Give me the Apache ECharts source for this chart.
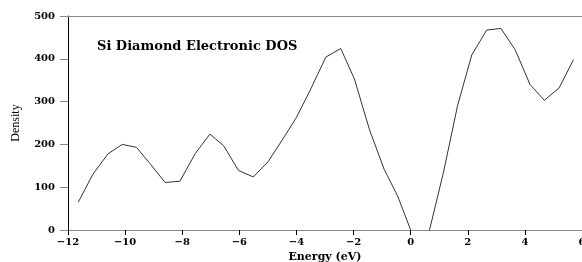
<!DOCTYPE html>
<html>
<head>
<meta charset="utf-8">
<script src="https://cdn.jsdelivr.net/npm/echarts@6/dist/echarts.min.js"></script>
<style>
  html, body { margin: 0; padding: 0; background: #fff; }
  #dos { width: 582px; height: 262px; }
</style>
</head>
<body>
<div id="dos"></div>
<script>
// valence band, energy (eV) vs density
const valenceBand = [
  [-11.64, 65], [-11.13, 130], [-10.6, 178], [-10.1, 200], [-9.6, 193],
  [-9.1, 153], [-8.6, 111], [-8.08, 114], [-7.55, 178], [-7.03, 224],
  [-6.55, 197], [-6.03, 139], [-5.51, 124], [-4.99, 160], [-4.5, 210],
  [-4.0, 263], [-3.48, 332], [-2.97, 404], [-2.45, 424], [-1.97, 353],
  [-1.44, 234], [-0.93, 142], [-0.46, 80], [0, 0],
]
// conduction band (after the gap)
const conductionBand = [
  [0.66, 0], [1.15, 135], [1.64, 290], [2.14, 409], [2.66, 467],
  [3.16, 471], [3.66, 421], [4.18, 340], [4.68, 303], [5.2, 332], [5.7, 398],
]
const xTicks = [-12, -10, -8, -6, -4, -2, 0, 2, 4, 6]
const yTicks = [0, 100, 200, 300, 400, 500]

function dosChart() {
  const tickFont = {
    fontFamily: 'DejaVu Serif',
    fontWeight: 'bold',
    fontSize: 10,
    color: '#000',
  }
  const lineStyle = { color: '#333', width: 1 }

  const option = {
    animation: false,
    backgroundColor: '#fff',
    title: {
      text: 'Si Diamond Electronic DOS',
      left: 92,
      top: 35,
      textStyle: {
        fontFamily: 'DejaVu Serif',
        fontWeight: 'bold',
        fontSize: 13,
        color: '#000',
      },
    },
    grid: {
      left: 68,
      right: 0,
      top: 16,
      bottom: 32,
      outerBoundsMode: 'none',
    },
    xAxis: [
      {
        type: 'value',
        min: xTicks[0],
        max: xTicks[xTicks.length - 1],
        interval: 2,
        name: 'Energy (eV)',
        nameLocation: 'middle',
        nameGap: 16,
        nameTextStyle: {
          fontFamily: 'DejaVu Serif',
          fontWeight: 'bold',
          fontSize: 11,
          color: '#000',
        },
        axisLine: { show: true, onZero: false, lineStyle: { color: '#888', width: 1 } },
        axisTick: { show: true, length: 5, lineStyle: { color: '#000' } },
        axisLabel: Object.assign({ margin: 7, formatter: (v) => String(v).replace('-', '\u2212') }, tickFont),
        splitLine: { show: false },
      },
      {
        type: 'value',
        position: 'top',
        min: xTicks[0],
        max: xTicks[xTicks.length - 1],
        axisLine: { show: true, onZero: false, lineStyle: { color: '#888', width: 1 } },
        axisTick: { show: false },
        axisLabel: { show: false },
        splitLine: { show: false },
      },
    ],
    yAxis: {
      type: 'value',
      min: yTicks[0],
      max: yTicks[yTicks.length - 1],
      interval: 100,
      name: 'Density',
      nameLocation: 'middle',
      nameGap: 46,
      nameTextStyle: {
        fontFamily: 'Liberation Serif',
        fontSize: 12,
        color: '#000',
      },
      axisLine: { show: true, onZero: false, lineStyle: { color: '#000', width: 1 } },
      axisTick: { show: true, length: 8, lineStyle: { color: '#888' } },
      axisLabel: Object.assign({ margin: 13 }, tickFont),
      splitLine: { show: false },
    },
    series: [
      {
        type: 'line',
        data: valenceBand,
        symbol: 'none',
        lineStyle: lineStyle,
      },
      {
        type: 'line',
        data: conductionBand,
        symbol: 'none',
        lineStyle: lineStyle,
      },
    ],
  }

  var myChart = echarts.init(document.getElementById('dos'))
  myChart.setOption(option)
}

dosChart()
</script>
</body>
</html>
